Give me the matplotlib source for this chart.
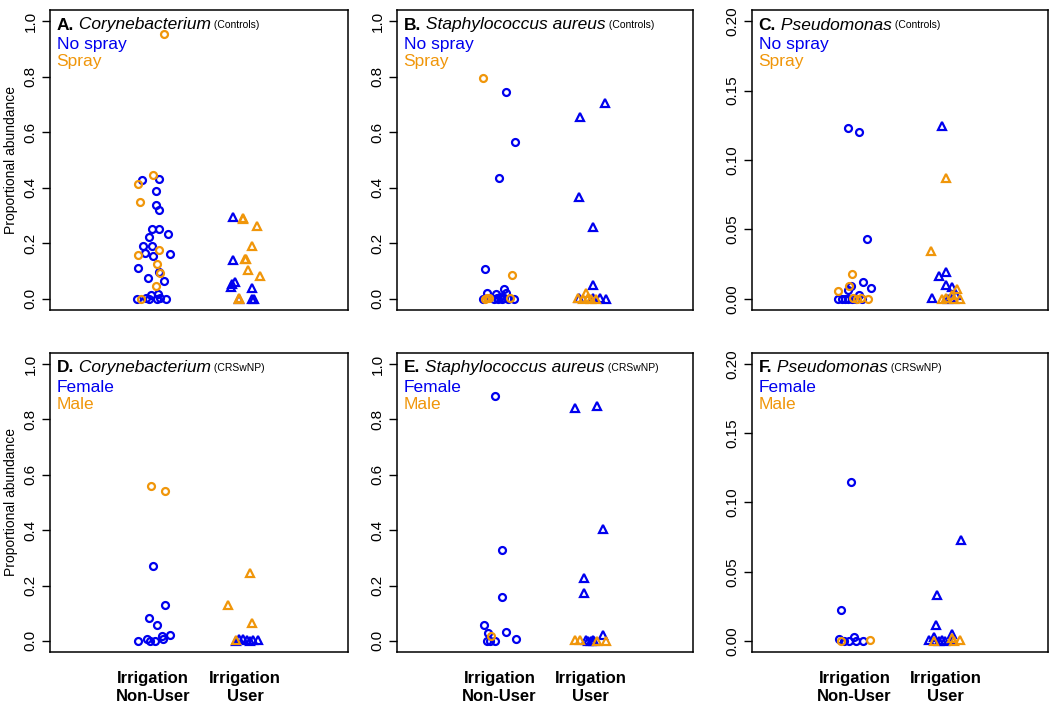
import matplotlib
matplotlib.use("Agg")
import matplotlib.pyplot as plt

plt.rcParams['font.family'] = ['Liberation Sans', 'DejaVu Sans']

BLUE = '#0000EE'
ORANGE = '#F0960A'

group_labels = ['Irrigation\nNon-User', 'Irrigation\nUser']

# (jittered x, proportional abundance)
a_nonuser_blue = [(0.88, 0.427), (1.06, 0.431), (1.03, 0.388), (1.03, 0.338), (1.06, 0.320),
                  (0.99, 0.250), (1.06, 0.253), (1.16, 0.234), (0.96, 0.222), (0.89, 0.192),
                  (0.99, 0.189), (0.91, 0.165), (1.00, 0.156), (1.18, 0.163), (0.84, 0.113),
                  (0.95, 0.076), (1.12, 0.063), (1.07, 0.097), (0.83, 0.0), (0.92, 0.004),
                  (0.96, 0.0), (0.98, 0.013), (1.05, 0.017), (1.04, 0.0), (1.08, 0.005), (1.14, 0.0)]
a_nonuser_orange = [(1.12, 0.953), (1.00, 0.446), (0.84, 0.415), (0.86, 0.350), (0.84, 0.159),
                    (1.06, 0.175), (1.04, 0.127), (1.08, 0.095), (1.03, 0.048), (0.87, 0.0)]
a_user_blue = [(1.87, 0.296), (1.87, 0.141), (1.86, 0.055), (1.89, 0.061), (1.85, 0.043),
               (2.08, 0.039), (2.08, 0.0), (2.10, 0.0), (1.93, 0.0)]
a_user_orange = [(1.975, 0.292), (1.98, 0.288), (2.13, 0.264), (2.08, 0.189), (2.00, 0.145),
                 (2.01, 0.143), (2.03, 0.105), (2.16, 0.084), (1.93, 0.0), (1.94, 0.002)]

b_nonuser_blue = [(1.076, 0.744), (1.17, 0.566), (1.00, 0.437), (0.84, 0.107), (1.055, 0.035),
                  (0.87, 0.020), (0.96, 0.017), (1.07, 0.020), (0.82, 0.0), (0.94, 0.0),
                  (0.99, 0.0), (1.03, 0.0), (1.05, 0.003), (1.09, 0.0), (1.16, 0.0),
                  (0.98, 0.005), (1.01, 0.008)]
b_nonuser_orange = [(0.826, 0.795), (1.135, 0.087), (0.84, 0.0), (0.86, 0.005), (0.89, 0.003),
                    (1.12, 0.004)]
b_user_blue = [(1.887, 0.654), (2.16, 0.704), (1.87, 0.367), (2.025, 0.259), (2.03, 0.051),
               (1.87, 0.003), (2.02, 0.003), (2.10, 0.002), (2.17, 0.0)]
b_user_orange = [(1.945, 0.023), (1.86, 0.003), (1.92, 0.0), (1.97, 0.004), (2.00, 0.0), (2.06, 0.0)]

c_nonuser_blue = [(0.93, 0.123), (1.055, 0.120), (1.14, 0.043), (1.095, 0.012), (1.18, 0.0077),
                  (0.965, 0.009), (0.935, 0.0065), (1.05, 0.003), (0.82, 0.0), (0.86, 0.0),
                  (0.90, 0.0), (0.93, 0.0), (0.97, 0.0), (1.02, 0.0), (1.08, 0.0)]
c_nonuser_orange = [(0.98, 0.018), (0.825, 0.0058), (0.94, 0.0094), (0.99, 0.0005), (1.03, 0.0),
                    (1.07, 0.001), (1.15, 0.0)]
c_user_blue = [(1.96, 0.1247), (2.007, 0.0193), (1.925, 0.0164), (2.007, 0.0101), (2.07, 0.0084),
               (2.11, 0.003), (1.85, 0.0005), (2.03, 0.0), (2.06, 0.001)]
c_user_orange = [(2.00, 0.0873), (1.84, 0.0343), (2.127, 0.0072), (2.07, 0.003), (1.96, 0.0),
                 (2.00, 0.0005), (2.09, 0.0), (2.16, 0.0)]

d_nonuser_blue = [(1.00, 0.270), (1.135, 0.130), (0.955, 0.082), (1.045, 0.058), (1.18, 0.020),
                  (1.095, 0.018), (1.105, 0.008), (0.935, 0.006), (0.84, 0.0), (0.97, 0.0),
                  (1.02, 0.0)]
d_nonuser_orange = [(0.98, 0.558), (1.13, 0.541)]
d_user_blue = [(1.935, 0.008), (1.98, 0.006), (2.02, 0.004), (2.09, 0.003), (2.14, 0.004),
               (1.90, 0.0), (2.05, 0.0)]
d_user_orange = [(2.057, 0.245), (1.82, 0.130), (2.075, 0.064), (1.90, 0.004)]

e_nonuser_blue = [(0.958, 0.886), (1.034, 0.329), (1.034, 0.160), (0.834, 0.058), (0.88, 0.028),
                  (1.077, 0.031), (1.18, 0.008), (0.86, 0.0), (0.90, 0.0), (0.958, 0.0)]
e_nonuser_orange = [(0.907, 0.016)]
e_user_blue = [(1.832, 0.840), (2.068, 0.848), (2.13, 0.405), (1.926, 0.226), (1.926, 0.172),
               (2.133, 0.022), (1.95, 0.004), (1.97, 0.0), (2.00, 0.0), (2.02, 0.004), (2.04, 0.0)]
e_user_orange = [(1.832, 0.004), (1.88, 0.004), (2.07, 0.0), (2.17, 0.0)]

f_nonuser_blue = [(0.968, 0.115), (0.856, 0.0222), (0.834, 0.0012), (0.994, 0.0029), (0.89, 0.0),
                  (0.94, 0.0), (1.02, 0.0), (1.09, 0.0)]
f_nonuser_orange = [(1.175, 0.0007), (0.85, 0.0)]
f_user_blue = [(2.166, 0.073), (1.90, 0.0333), (1.894, 0.0116), (2.068, 0.0048), (1.87, 0.0029),
               (1.82, 0.0007), (1.93, 0.0), (1.965, 0.0007), (1.99, 0.0), (2.08, 0.0007)]
f_user_orange = [(2.065, 0.0024), (2.16, 0.0007), (2.09, 0.0), (1.875, 0.0)]

ticks_full = [0.0, 0.2, 0.4, 0.6, 0.8, 1.0]
ticks_small = [0.0, 0.05, 0.10, 0.15, 0.20]

panels = [
    ('A.', 'Corynebacterium', '(Controls)', ['No spray', 'Spray'],
     a_nonuser_blue, a_nonuser_orange, a_user_blue, a_user_orange, ticks_full),
    ('B.', 'Staphylococcus aureus', '(Controls)', ['No spray', 'Spray'],
     b_nonuser_blue, b_nonuser_orange, b_user_blue, b_user_orange, ticks_full),
    ('C.', 'Pseudomonas', '(Controls)', ['No spray', 'Spray'],
     c_nonuser_blue, c_nonuser_orange, c_user_blue, c_user_orange, ticks_small),
    ('D.', 'Corynebacterium', '(CRSwNP)', ['Female', 'Male'],
     d_nonuser_blue, d_nonuser_orange, d_user_blue, d_user_orange, ticks_full),
    ('E.', 'Staphylococcus aureus', '(CRSwNP)', ['Female', 'Male'],
     e_nonuser_blue, e_nonuser_orange, e_user_blue, e_user_orange, ticks_full),
    ('F.', 'Pseudomonas', '(CRSwNP)', ['Female', 'Male'],
     f_nonuser_blue, f_nonuser_orange, f_user_blue, f_user_orange, ticks_small),
]

W, H = 1050, 704
fig = plt.figure(figsize=(W / 100, H / 100), dpi=100)
lefts = [50, 397, 752]
widths = [298, 296, 296]
tops = [10, 353]
heights = [300, 299]

for i, (letter, genus, group, legend, nb, no, ub, uo, ticks) in enumerate(panels):
    row, col = divmod(i, 3)
    ax = fig.add_axes([lefts[col] / W, (H - tops[row] - heights[row]) / H,
                       widths[col] / W, heights[row] / H])

    for pts, marker, color, ms in [(nb, 'o', BLUE, 5), (no, 'o', ORANGE, 5),
                                   (ub, '^', BLUE, 5.5), (uo, '^', ORANGE, 5.5)]:
        xs = [p[0] for p in pts]
        ys = [p[1] for p in pts]
        ax.plot(xs, ys, linestyle='none', marker=marker, markersize=ms,
                markerfacecolor='none', markeredgecolor=color, markeredgewidth=1.6)

    ymax = ticks[-1]
    ax.set_xlim(-0.12, 3.12)
    ax.set_ylim(-0.04 * ymax, 1.04 * ymax)
    ax.set_yticks(ticks)
    fmt = '{:.1f}' if ymax == 1.0 else '{:.2f}'
    ax.set_yticklabels([fmt.format(t) for t in ticks])
    ax.tick_params(axis='y', labelrotation=90, labelsize=11, length=5.5, width=1, pad=3.5)
    for lab in ax.get_yticklabels():
        lab.set_va('center')

    if row == 1:
        ax.set_xticks([1, 2])
        ax.set_xticklabels(group_labels, fontsize=12, fontweight='bold')
        ax.tick_params(axis='x', length=0, pad=14)
    else:
        ax.set_xticks([])

    for sp in ax.spines.values():
        sp.set_linewidth(1.1)

    if col == 0:
        ax.set_ylabel('Proportional abundance', fontsize=10, labelpad=4)

    # title built from pieces: bold letter, italic genus, small group tag
    t1 = ax.text(0.022, 0.925, letter, transform=ax.transAxes, fontsize=12.5,
                 fontweight='bold', va='bottom', ha='left')
    t2 = ax.annotate(' ' + genus, xy=(1, 0), xycoords=t1, fontsize=12.5,
                     fontstyle='italic', va='bottom', ha='left')
    ax.annotate(' ' + group, xy=(1, 0), xycoords=t2, xytext=(0, 1.5),
                textcoords='offset points', fontsize=7.5, va='bottom', ha='left')
    ax.text(0.022, 0.885, legend[0], transform=ax.transAxes, fontsize=12.5,
            color=BLUE, va='center', ha='left')
    ax.text(0.022, 0.828, legend[1], transform=ax.transAxes, fontsize=12.5,
            color=ORANGE, va='center', ha='left')

fig.savefig('out.png', dpi=100)
